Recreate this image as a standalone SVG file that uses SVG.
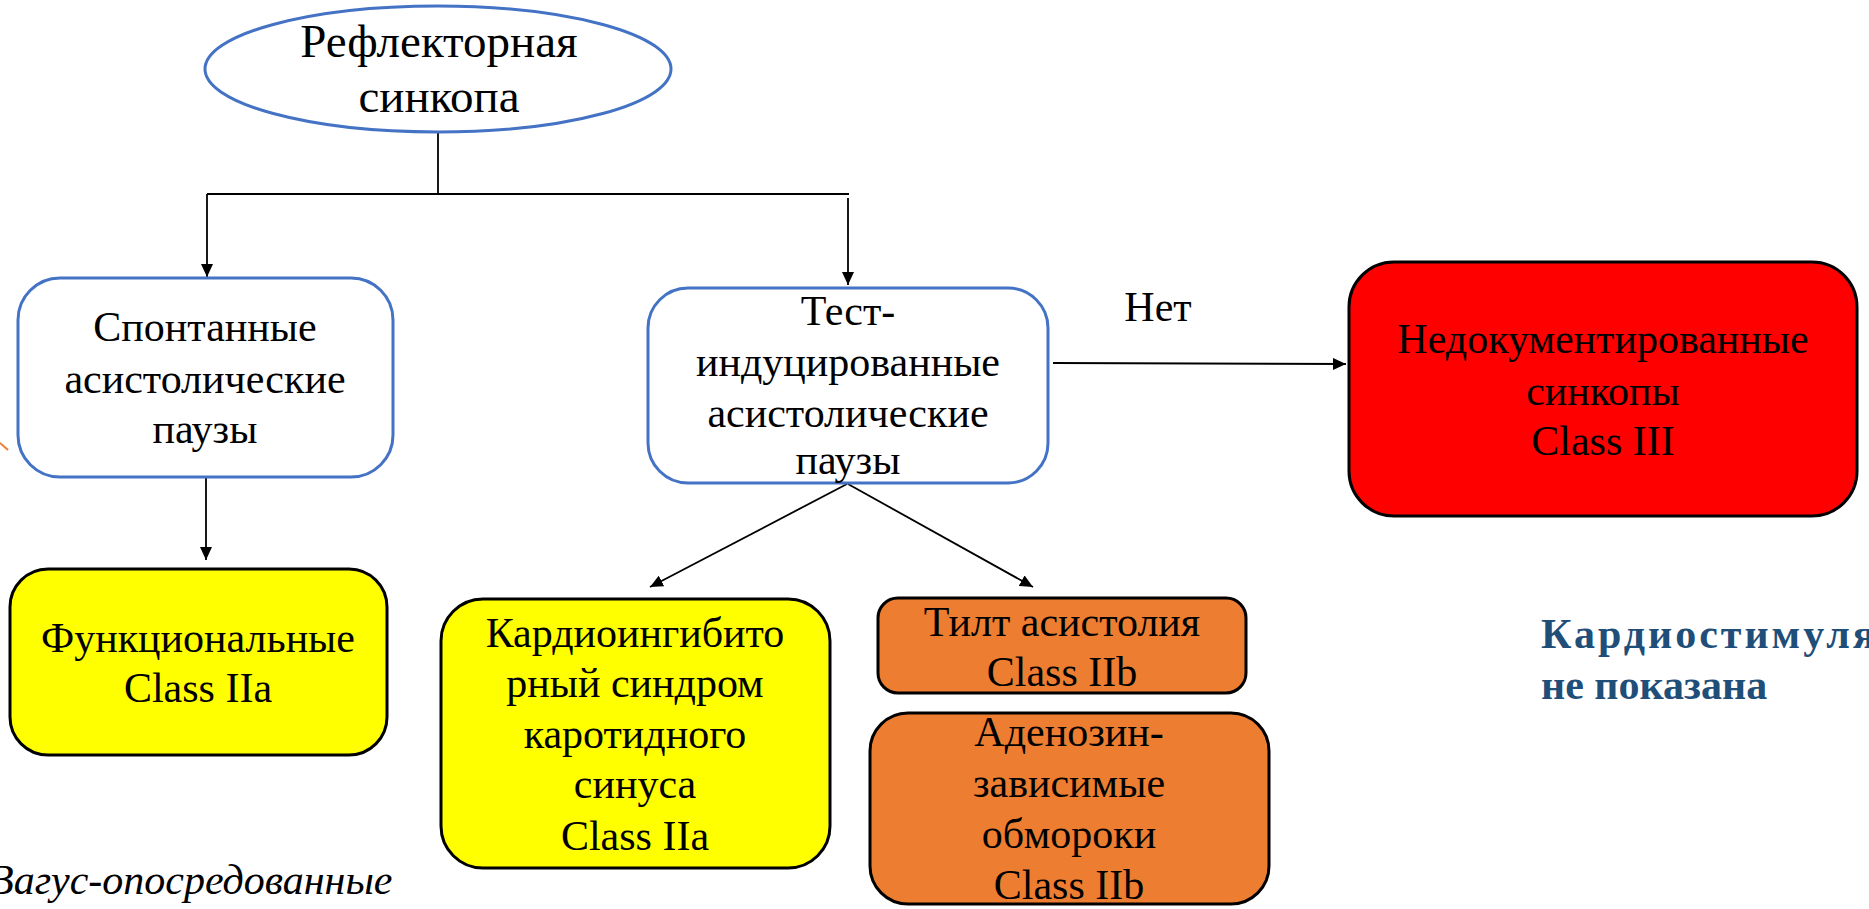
<svg xmlns="http://www.w3.org/2000/svg" width="1869" height="909" viewBox="0 0 1869 909">
<defs>
<marker id="arr" markerUnits="userSpaceOnUse" markerWidth="14" markerHeight="12" refX="13" refY="6" orient="auto">
<path d="M0,0 L13,6 L0,12 Z" fill="#000"/>
</marker>
<style>
.t{font-family:"Liberation Serif","Times New Roman",serif;font-size:42px;fill:#000;text-anchor:middle}
.note{font-family:"Liberation Serif","Times New Roman",serif;font-size:42px;font-weight:bold;fill:#1F4E79}
.blue{fill:#fff;stroke:#4472C4;stroke-width:3}
.blk{stroke:#000;stroke-width:3}
.yel{fill:#FFFF00}
.org{fill:#ED7D31}
.red{fill:#FF0000}
.c{stroke:#000;stroke-width:1.8;fill:none}
</style>
</defs>
<rect width="1869" height="909" fill="#fff"/>

<g id="connectors">
<line class="c" x1="438" y1="131" x2="438" y2="193"/>
<line class="c" x1="207" y1="194" x2="849" y2="194"/>
<line class="c" x1="207" y1="194" x2="207" y2="277" marker-end="url(#arr)"/>
<line class="c" x1="848" y1="198" x2="848" y2="285" marker-end="url(#arr)"/>
<line class="c" x1="206" y1="477" x2="206" y2="560" marker-end="url(#arr)"/>
<line class="c" x1="847" y1="484" x2="650" y2="587" marker-end="url(#arr)"/>
<line class="c" x1="848" y1="484" x2="1033" y2="587" marker-end="url(#arr)"/>
<line class="c" x1="1053" y1="363" x2="1346" y2="364" marker-end="url(#arr)"/>
<line x1="0" y1="443" x2="8" y2="450" stroke="#ED7D31" stroke-width="2"/>
</g>

<g id="n-root">
<ellipse class="blue" cx="438" cy="69" rx="233" ry="63"/>
<text class="t" style="font-size:47px" x="439" y="57">Рефлекторная</text>
<text class="t" style="font-size:47px" x="439" y="112">синкопа</text>
</g>

<g id="n-spont">
<rect class="blue" x="18" y="278" width="375" height="199" rx="42"/>
<text class="t" x="205" y="341">Спонтанные</text>
<text class="t" x="205" y="393">асистолические</text>
<text class="t" x="205" y="443">паузы</text>
</g>

<g id="n-test">
<rect class="blue" x="648" y="288" width="400" height="195" rx="40"/>
<text class="t" x="848" y="325">Тест-</text>
<text class="t" x="848" y="376">индуцированные</text>
<text class="t" x="848" y="427">асистолические</text>
<text class="t" x="848" y="474">паузы</text>
</g>

<g id="n-undoc">
<rect class="red blk" x="1349" y="262" width="508" height="254" rx="45"/>
<text class="t" x="1603" y="353">Недокументированные</text>
<text class="t" x="1603" y="405">синкопы</text>
<text class="t" x="1603" y="455">Class III</text>
</g>

<g id="lbl-net">
<text class="t" x="1158" y="321">Нет</text>
</g>

<g id="n-func">
<rect class="yel blk" x="10" y="569" width="377" height="186" rx="38"/>
<text class="t" x="198" y="652">Функциональные</text>
<text class="t" x="198" y="702">Class IIa</text>
</g>

<g id="n-carotid">
<rect class="yel blk" x="441" y="599" width="389" height="269" rx="42"/>
<text class="t" x="635" y="647">Кардиоингибито</text>
<text class="t" x="635" y="697">рный синдром</text>
<text class="t" x="635" y="748">каротидного</text>
<text class="t" x="635" y="798">синуса</text>
<text class="t" x="635" y="850">Class IIa</text>
</g>

<g id="n-tilt">
<rect class="org blk" x="878" y="598" width="368" height="95" rx="20"/>
<text class="t" x="1062" y="636">Тилт асистолия</text>
<text class="t" x="1062" y="686">Class IIb</text>
</g>

<g id="n-adeno">
<rect class="org blk" x="870" y="713" width="399" height="191" rx="38"/>
<text class="t" x="1069" y="746">Аденозин-</text>
<text class="t" x="1069" y="797">зависимые</text>
<text class="t" x="1069" y="848">обмороки</text>
<text class="t" x="1069" y="899">Class IIb</text>
</g>

<g id="note-pacing">
<text class="note" x="1541" y="648" style="letter-spacing:3px">Кардиостимуляция</text>
<text class="note" x="1541" y="699">не показана</text>
</g>

<g id="note-vagal">
<text x="-12" y="894" style="font-family:'Liberation Serif','Times New Roman',serif;font-size:42px;font-style:italic;fill:#000">Вагус-опосредованные</text>
</g>
</svg>
